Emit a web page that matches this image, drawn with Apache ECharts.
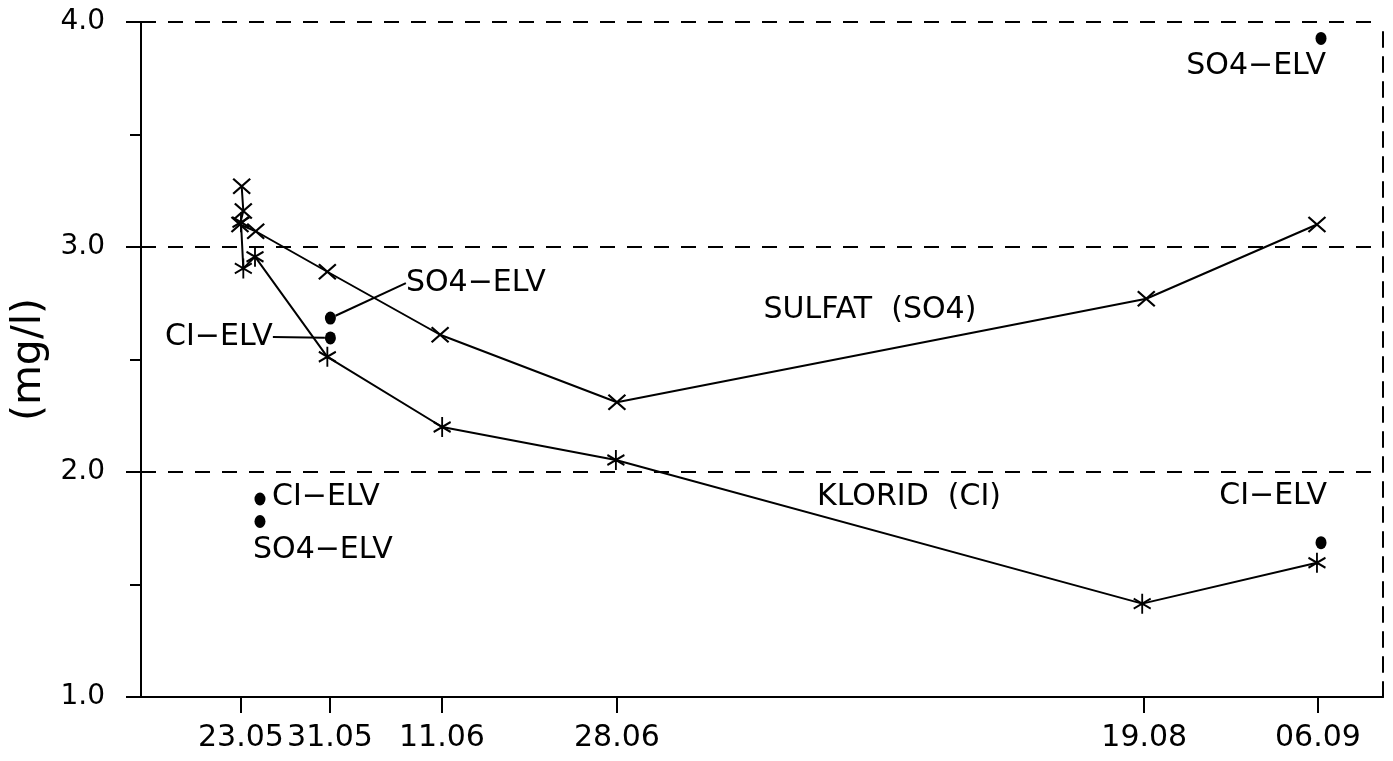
<!DOCTYPE html>
<html><head><meta charset="utf-8">
<script src="https://cdn.jsdelivr.net/npm/echarts@6/dist/echarts.min.js"></script>
<style>html,body{margin:0;padding:0;background:#fff}#c{width:1393px;height:761px}</style>
</head><body><div id="c"></div>
<script>
// ---- data (x = position along the time axis, in days after 23.05) ----
const tickLabels = ['23.05', '31.05', '11.06', '28.06', '19.08', '06.09'];
const tickPos = [0, 8.76, 19.78, 37.0, 88.9, 106.0];
const sulfatX = [0.07, 0.23, -0.1, 1.45, 8.5, 19.6, 37.0, 89.1, 105.9];
const sulfatValues = [3.27, 3.16, 3.10, 3.07, 2.89, 2.61, 2.31, 2.77, 3.10];
const kloridX = [0, 0.23, 1.38, 8.5, 19.8, 36.9, 88.7, 105.9];
const kloridValues = [3.11, 2.905, 2.957, 2.512, 2.20, 2.053, 1.415, 1.597];
const elvX = [1.87, 1.87, 8.8, 8.8, 106.3, 106.3];
const elvValues = [1.88, 1.78, 2.684, 2.596, 3.927, 1.686];
const elvLabels = ['CI\u2212ELV', 'SO4\u2212ELV', 'SO4\u2212ELV', 'CI\u2212ELV', 'SO4\u2212ELV', 'CI\u2212ELV'];
const seriesNames = ['SULFAT (SO4)', 'KLORID (CI)'];
const yTitle = '(mg/l)';

// ---- presentation ----
const FONT = 'DejaVu Sans';
const FS = 30;
const black = '#000';
const wide = s => s.replace(' ', '  ');
const elvLabelStyle = [
  {position: 'inside', align: 'left', verticalAlign: 'middle'},
  {position: 'inside', align: 'left', verticalAlign: 'middle'},
  {position: 'right', distance: 5},
  {position: 'left', distance: 5},
  {position: 'inside', align: 'right', verticalAlign: 'middle'},
  {position: 'inside', align: 'right', verticalAlign: 'middle'}
];
const elvMoves = [[12, -2], [-7, 29], [65, -35], [-47, -1], [5, 28], [6, -46]];
const elvLeader = [false, false, true, true, false, false];

const zip = (a, b) => a.map((v, i) => [v, b[i]]);

const chart = echarts.init(document.getElementById('c'), null, {renderer: 'canvas'});
chart.setOption({
  animation: false,
  backgroundColor: '#fff',
  textStyle: {fontFamily: FONT, color: black},
  grid: {left: 141, right: 10, top: 22, bottom: 64, containLabel: false},
  xAxis: {
    type: 'value', min: -9.84, max: 112.4,
    axisLine: {show: true, onZero: false, lineStyle: {color: black, width: 2}},
    axisTick: {show: true, customValues: tickPos, length: 16, lineStyle: {color: black, width: 2}},
    axisLabel: {
      customValues: tickPos, margin: 26, fontSize: FS, fontFamily: FONT, color: black,
      formatter: v => tickLabels[tickPos.indexOf(v)]
    },
    splitLine: {show: false}
  },
  yAxis: [{
    type: 'value', min: 1, max: 4, interval: 1,
    name: yTitle, nameLocation: 'middle', nameGap: 88, nameRotate: 90,
    nameTextStyle: {fontSize: 41, fontFamily: FONT, color: black},
    axisLine: {show: true, onZero: false, lineStyle: {color: black, width: 2}},
    axisTick: {show: true, length: 15, lineStyle: {color: black, width: 2}},
    minorTick: {show: true, splitNumber: 2, length: 11, lineStyle: {color: black, width: 2}},
    axisLabel: {margin: 36, fontSize: 28, fontFamily: FONT, color: black, formatter: v => v.toFixed(1)},
    splitLine: {show: true, lineStyle: {color: black, width: 2, type: [15, 12]}}
  }, {
    type: 'value', min: 1, max: 4, position: 'right',
    axisLine: {show: true, onZero: false, lineStyle: {color: black, width: 2, type: [15, 10]}},
    axisTick: {show: false}, axisLabel: {show: false}, splitLine: {show: false}
  }],
  series: [{
    name: seriesNames[0], type: 'line', data: zip(sulfatX, sulfatValues),
    symbol: 'path://M0,0L16,14M16,0L0,14', symbolSize: [17, 15],
    showAllSymbol: true,
    itemStyle: {color: 'transparent', borderColor: black, borderWidth: 2},
    lineStyle: {color: black, width: 2},
    markPoint: {
      symbol: 'circle', symbolSize: 0, silent: true,
      label: {show: true, position: 'inside', color: black, fontSize: FS, fontFamily: FONT, formatter: wide(seriesNames[0])},
      data: [{coord: [61.9, 2.72]}]
    }
  }, {
    name: seriesNames[1], type: 'line', data: zip(kloridX, kloridValues),
    symbol: 'path://M8,0L8,20M0,5L16,15M16,5L0,15', symbolSize: [17, 20],
    showAllSymbol: true,
    itemStyle: {color: 'transparent', borderColor: black, borderWidth: 2},
    lineStyle: {color: black, width: 2},
    markPoint: {
      symbol: 'circle', symbolSize: 0, silent: true,
      label: {show: true, position: 'inside', color: black, fontSize: FS, fontFamily: FONT, formatter: wide(seriesNames[1])},
      data: [{coord: [65.75, 1.889]}]
    }
  }, {
    name: 'ELV', type: 'scatter',
    symbol: 'circle', symbolSize: [11, 13],
    itemStyle: {color: black, opacity: 1},
    data: elvX.map((d, i) => ({
      value: [d, elvValues[i]],
      label: Object.assign({show: true, formatter: elvLabels[i], color: black, fontSize: FS,
        fontFamily: FONT, textBorderWidth: 0}, elvLabelStyle[i]),
      labelLine: {show: elvLeader[i], lineStyle: {color: black, width: 2}}
    })),
    labelLayout: p => ({dx: elvMoves[p.dataIndex][0], dy: elvMoves[p.dataIndex][1]})
  }]
});
</script>
</body></html>
